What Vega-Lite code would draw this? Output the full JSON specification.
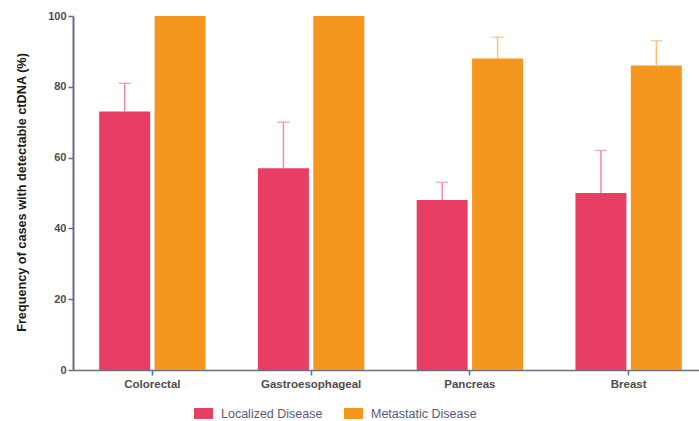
{
  "$schema": "https://vega.github.io/schema/vega-lite/v6.json",
  "width": 626,
  "height": 354,
  "autosize": {"type": "none"},
  "padding": {"left": 73, "top": 16, "right": 0, "bottom": 51},
  "config": {
    "view": {"stroke": null},
    "font": "Liberation Sans"
  },
  "data": {
    "values": [
      {"category": "Colorectal", "series": "Localized Disease", "value": 73, "upper": 81},
      {"category": "Colorectal", "series": "Metastatic Disease", "value": 100, "upper": null},
      {"category": "Gastroesophageal", "series": "Localized Disease", "value": 57, "upper": 70},
      {"category": "Gastroesophageal", "series": "Metastatic Disease", "value": 100, "upper": null},
      {"category": "Pancreas", "series": "Localized Disease", "value": 48, "upper": 53},
      {"category": "Pancreas", "series": "Metastatic Disease", "value": 88, "upper": 94},
      {"category": "Breast", "series": "Localized Disease", "value": 50, "upper": 62},
      {"category": "Breast", "series": "Metastatic Disease", "value": 86, "upper": 93}
    ]
  },
  "encoding": {
    "x": {
      "field": "category",
      "type": "nominal",
      "sort": null,
      "scale": {"range": [0, 635], "paddingInner": 0.33, "paddingOuter": 0.165},
      "axis": {
        "title": null,
        "labelAngle": 0,
        "labelFont": "Liberation Sans",
        "labelFontWeight": "bold",
        "labelFontSize": 11.5,
        "labelColor": "#4d4d4d",
        "labelPadding": 3,
        "domainColor": "#6b6b85",
        "domainWidth": 1.5,
        "tickColor": "#6b6b85",
        "tickWidth": 1.5,
        "tickSize": 5
      }
    },
    "xOffset": {
      "field": "series",
      "type": "nominal",
      "sort": null,
      "scale": {"paddingInner": 0.08, "paddingOuter": 0}
    }
  },
  "layer": [
    {
      "mark": {"type": "bar"},
      "encoding": {
        "y": {
          "field": "value",
          "type": "quantitative",
          "scale": {"domain": [0, 100]},
          "axis": {
            "title": "Frequency of cases with detectable ctDNA (%)",
            "values": [0, 20, 40, 60, 80, 100],
            "grid": false,
            "labelFont": "Liberation Sans",
            "labelFontWeight": "bold",
            "labelFontSize": 11,
            "labelColor": "#4d4d4d",
            "labelPadding": 2,
            "domainColor": "#6b6b85",
            "domainWidth": 2,
            "tickColor": "#6b6b85",
            "tickWidth": 1.5,
            "tickSize": 5,
            "titleFont": "Liberation Sans",
            "titleFontSize": 12.7,
            "titleFontWeight": "bold",
            "titleColor": "#1a1a1a",
            "titleAngle": -90,
            "titleX": -52,
            "titleY": 176,
            "titleAlign": "center",
            "titleBaseline": "middle"
          }
        },
        "color": {
          "field": "series",
          "type": "nominal",
          "sort": null,
          "scale": {"range": ["#E83E63", "#F5961F"]},
          "legend": {
            "title": null,
            "orient": "none",
            "direction": "horizontal",
            "legendX": 121,
            "legendY": 388,
            "padding": 0,
            "symbolType": "M-1,-0.58L1,-0.58L1,0.58L-1,0.58Z",
            "symbolSize": 361,
            "symbolStrokeWidth": 0,
            "labelFont": "Liberation Sans",
            "labelFontSize": 12.5,
            "labelColor": "#5a5a78",
            "labelOffset": 8,
            "columnPadding": 21
          }
        }
      }
    },
    {
      "transform": [{"filter": "datum.upper != null"}],
      "mark": {"type": "rule", "strokeWidth": 1.5},
      "encoding": {
        "y": {"field": "value", "type": "quantitative", "title": "Frequency of cases with detectable ctDNA (%)"},
        "y2": {"field": "upper"},
        "color": {
          "condition": {"test": "datum.series === 'Localized Disease'", "value": "#F08AA0"},
          "value": "#F9BE78"
        }
      }
    },
    {
      "transform": [{"filter": "datum.upper != null"}],
      "mark": {"type": "tick", "thickness": 1.5, "size": 12},
      "encoding": {
        "y": {"field": "upper", "type": "quantitative", "title": "Frequency of cases with detectable ctDNA (%)"},
        "color": {
          "condition": {"test": "datum.series === 'Localized Disease'", "value": "#F08AA0"},
          "value": "#F9BE78"
        }
      }
    }
  ]
}
